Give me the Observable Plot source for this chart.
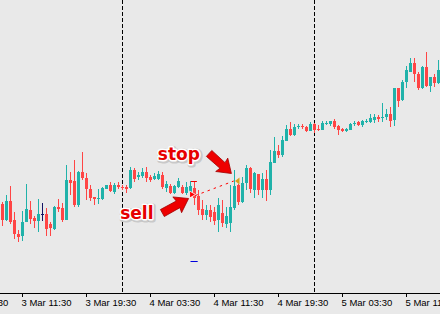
<!DOCTYPE html>
<html><head><meta charset="utf-8">
<script src="https://cdn.jsdelivr.net/npm/d3@7"></script>
<script src="https://cdn.jsdelivr.net/npm/@observablehq/plot@0.6"></script>
<style>
html,body{margin:0;padding:0;background:#e9e9e9;overflow:hidden;}
</style></head><body><div id="chart"></div>
<script>
// 30-minute bars, bar 0 = 3 Mar 09:00 (price level in chart points)
const open  = [96,80,99,80,66,64,78,90,82,79,86,86,76,71,93,92,80,120,119,95,128,122,111,103,101,101,111,115,108,115,113,113,112,130,123,124,128,123,121,121,125,112,114,107,113,113,107,108,112,104,91,85,90,88,80,87,76,77,92,115,98,117,132,110,126,110,121,110,137,149,145,159,171,165,173,174,173,169,176,171,170,176,176,179,174,171,169,170,176,178,175,178,178,180,183,182,183,186,180,212,200,218,228,237,226,212,233,214,223,217];
const high  = [98,105,114,88,70,89,116,99,84,101,97,92,78,94,101,97,135,128,140,129,148,127,115,103,111,113,115,118,117,118,115,115,133,132,128,132,133,125,127,129,128,119,116,115,122,115,118,119,119,110,100,95,95,93,102,100,93,115,130,116,123,135,133,128,126,127,130,150,163,155,164,175,178,176,176,176,174,178,177,175,179,179,179,181,175,172,172,177,179,179,180,181,186,186,185,197,191,193,212,212,220,234,242,242,228,234,248,223,226,240];
const low   = [74,79,76,61,58,59,78,76,72,68,79,64,64,70,88,78,80,105,93,93,120,100,99,95,96,100,111,108,106,111,110,107,111,118,120,122,118,118,120,120,111,108,106,106,112,106,105,105,95,85,80,80,78,75,68,73,72,68,90,95,97,110,107,102,105,102,99,105,137,142,143,159,164,164,171,171,168,169,167,169,170,175,174,171,165,168,168,170,174,174,173,177,177,177,178,178,180,173,174,193,199,212,228,218,210,211,213,208,213,216];
const close = [80,99,78,66,63,78,91,81,79,86,86,71,72,93,91,80,120,117,95,128,122,111,102,101,102,112,115,109,115,113,112,111,130,121,125,128,122,120,124,126,113,116,107,114,119,107,113,114,102,90,85,90,83,79,95,77,84,93,114,98,117,132,111,127,110,121,110,138,149,145,160,171,165,173,174,173,169,176,170,170,177,177,179,173,170,169,171,176,177,175,179,179,182,183,181,183,186,179,212,199,218,230,237,226,212,233,214,223,217,230];

// time axis: bar index of each labelled tick
const tickBars   = [-11, 5, 21, 37, 53, 69, 85, 101];
const tickLabels = ["3 Mar 03:30","3 Mar 11:30","3 Mar 19:30","4 Mar 03:30","4 Mar 11:30","4 Mar 19:30","5 Mar 03:30","5 Mar 11:30"];
// day separators (4 Mar 00:00, 5 Mar 00:00)
const dayStarts  = [30, 78];

// trade annotation
const labelText  = ["stop", "sell"];
const labelBar   = [38.7, 29.3];
const labelPrice = [146, 87];
const arrowBar   = [57.1, 46.4];
const arrowPrice = [127, 102];
const arrowAngle = [42, -29];
const entry = {bar: 47.4, price: 106};
const exit  = {bar: 58.5, price: 119.5};
const stopLevel = {bar1: 47.1, bar2: 48.6, price: 119};
const takeLevel = {bar1: 47.0, bar2: 48.8, price: 39};

const TEAL = "#20b2aa", RED = "#ff4545", NAVY = "#141464";
const bars = open.map((o, i) => ({i, open: o, high: high[i], low: low[i], close: close[i]}));
const col = d => d.close > d.open ? TEAL : d.close < d.open ? RED : NAVY;

function polySymbol(points, angleDeg) {
  const a = angleDeg * Math.PI / 180, c = Math.cos(a), s = Math.sin(a);
  return {draw(ctx) {
    points.forEach(([x, y], k) => {
      const X = x * c - y * s, Y = x * s + y * c;
      k ? ctx.lineTo(X, Y) : ctx.moveTo(X, Y);
    });
    ctx.closePath();
  }};
}
const bigArrow = [[0,0],[-13,-9],[-12,-3.8],[-30,-4],[-30,4],[-12,3.8],[-13,9]];
const labels = labelText.map((t, k) => ({t, x: labelBar[k], y: labelPrice[k]}));
const arrows = arrowBar.map((b, k) => ({x: b, y: arrowPrice[k], a: arrowAngle[k]}));
const ticks = tickBars.map((b, k) => ({b, label: tickLabels[k]}));
const LABEL_FONT = "DejaVu Sans, Verdana, sans-serif";

const chart = Plot.plot({
  width: 440, height: 314,
  marginTop: 0, marginRight: 0, marginBottom: 21, marginLeft: 0,
  style: {background: "#e9e9e9", fontFamily: "Liberation Sans, Arial, sans-serif", overflow: "visible"},
  x: {type: "linear", domain: [-0.625, 109.375], axis: null},
  y: {domain: [7, 300], axis: null},
  marks: [
    Plot.ruleX(dayStarts, {x: d => d, stroke: "#000", strokeDasharray: "4,2", dx: -0.5}),
    // wicks
    Plot.rect(bars, {x1: d => d.i - 0.125, x2: d => d.i + 0.125, y1: "low", y2: "high", fill: col}),
    // bodies
    Plot.rect(bars, {x1: d => d.i - 0.375, x2: d => d.i + 0.375,
      y1: d => d.open === d.close ? d.open - 1 : Math.min(d.open, d.close),
      y2: d => Math.max(d.open, d.close), fill: col}),
    // trade line
    Plot.link([0], {x1: entry.bar + 0.7, y1: entry.price - 1, x2: exit.bar - 0.8, y2: exit.price, stroke: "#f00", strokeWidth: 1, strokeDasharray: "2.5,4"}),
    // stop / take levels
    Plot.ruleY([stopLevel], {y: "price", x1: "bar1", x2: "bar2", stroke: "#e00", strokeWidth: 1}),
    Plot.ruleY([takeLevel], {y: "price", x1: "bar1", x2: "bar2", stroke: "#0000dd", strokeWidth: 1}),
    // entry / exit markers
    Plot.dot([entry], {x: "bar", y: "price", symbol: polySymbol([[3,0],[-3,-3.5],[-3,3.5]], 0), fill: "#f00", stroke: "white", strokeWidth: 0.8}),
    Plot.dot([exit], {x: "bar", y: "price", symbol: polySymbol([[-2,0],[2.5,-3.5],[2.5,3.5]], 0), fill: "#d9a21b", stroke: "none"}),
    // big red arrows
    ...arrows.map(a => Plot.dot([a], {x: "x", y: "y", symbol: polySymbol(bigArrow, a.a), fill: "#ee0000", stroke: "#a00000", strokeWidth: 0.8})),
    // labels with halo
    Plot.text(labels, {x: "x", y: "y", text: "t", textAnchor: "start", fontSize: 17, fontWeight: "bold", fontFamily: LABEL_FONT, fill: "#888", stroke: "#aaa", strokeWidth: 5, strokeOpacity: 0.5, dx: 1, dy: 1}),
    Plot.text(labels, {x: "x", y: "y", text: "t", textAnchor: "start", fontSize: 17, fontWeight: "bold", fontFamily: LABEL_FONT, fill: "#e60000", stroke: "white", strokeWidth: 3}),
    // time axis
    Plot.frame({anchor: "bottom", stroke: "#000"}),
    Plot.ruleX(ticks, {x: "b", y1: 7, y2: 3, stroke: "#000", dx: -0.5}),
    Plot.text(ticks, {x: "b", y: 7, text: "label", textAnchor: "start", lineAnchor: "top", dx: -1.5, dy: 6, fontSize: 9.5, fill: "#000"})
  ]
});
document.getElementById("chart").appendChild(chart);
</script>
</body></html>
